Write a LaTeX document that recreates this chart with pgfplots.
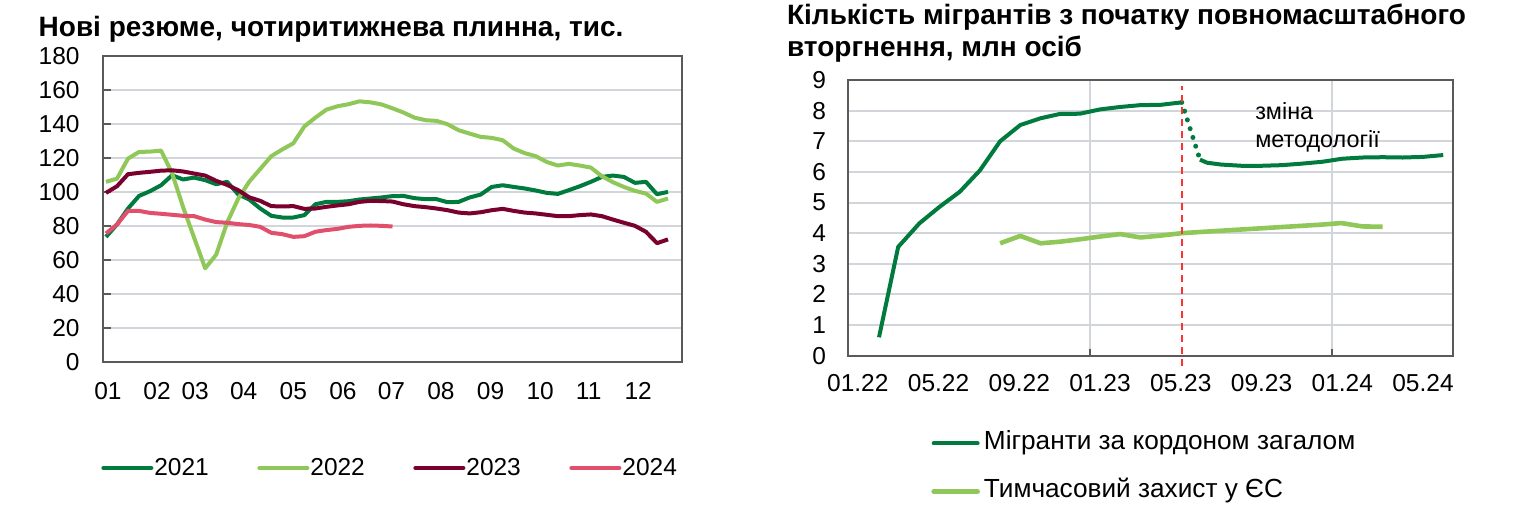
\documentclass[border=0pt]{standalone}
\usepackage{fontspec}
\setmainfont{Liberation Sans}
\usepackage{pgfplots}
\usepackage{pgfplotstable}
\pgfplotsset{compat=1.18}
\definecolor{dgreen}{RGB}{0,122,61}
\definecolor{lgreen}{RGB}{143,200,88}
\definecolor{maroon}{RGB}{122,0,45}
\definecolor{pinkc}{RGB}{224,80,108}
\definecolor{gridc}{RGB}{210,214,219}
\definecolor{framec}{RGB}{90,90,90}
\definecolor{redc}{RGB}{255,50,50}
\newcommand{\tf}{\fontsize{12.25bp}{14bp}\selectfont}
\newcommand{\lf}{\fontsize{13.1bp}{15bp}\selectfont}
\newcommand{\af}{\fontsize{11.7bp}{14bp}\selectfont}
\newcommand{\ttl}{\bfseries\fontsize{14bp}{16bp}\selectfont}

\pgfplotstableread{
w y21 y22 y23 y24
1 73.5 105.9 99.4 75.5
2 80.8 107.8 103.3 80.8
3 90.2 119.6 110.4 88.8
4 97.6 123.5 111.2 88.8
5 100.4 123.7 111.8 87.6
6 103.9 124.3 112.5 87.1
7 109.8 111 112.7 86.5
8 107.3 91 112 85.9
9 108.4 73 110.8 85.7
10 106.9 55 109.6 83.7
11 104.5 63 106.5 82.2
12 105.9 82 104.1 81.8
13 98.5 96 101 81
14 95.5 106 96.8 80.5
15 90.2 113.5 94.7 79.4
16 85.9 121 91.6 75.9
17 84.9 125 91.4 75.1
18 84.9 128.6 91.6 73.5
19 86.3 138.5 90 73.9
20 92.7 143.7 90.2 76.5
21 94.1 148.4 91.2 77.5
22 94.1 150.4 92 78.2
23 94.5 151.6 92.7 79.4
24 95.5 153.3 94.1 80
25 96.1 152.7 94.7 80.2
26 96.7 151.5 94.6 80
27 97.5 149.2 94.3 79.6
28 97.6 146.7 92.7 nan
29 96.3 143.7 91.6 nan
30 95.7 142.2 91 nan
31 95.7 141.8 90.2 nan
32 93.9 139.8 89.2 nan
33 94.1 136.3 87.8 nan
34 96.7 134.3 87.3 nan
35 98.4 132.4 88 nan
36 102.9 131.8 89.2 nan
37 103.9 130.4 90 nan
38 102.9 125.5 88.8 nan
39 102.0 122.8 87.8 nan
40 100.8 121 87.3 nan
41 99.4 117.6 86.5 nan
42 98.8 115.5 85.7 nan
43 101 116.5 85.7 nan
44 103.3 115.5 86.3 nan
45 105.9 114.3 86.7 nan
46 108.8 109.2 85.7 nan
47 109.6 105.7 83.7 nan
48 108.8 102.9 81.8 nan
49 105.3 100.6 80 nan
50 105.9 99 76.5 nan
51 98.6 94.1 69.8 nan
52 100 96.1 72 nan
}\resume

\begin{document}
\begin{tikzpicture}
\useasboundingbox (0,0) rectangle (765bp,253bp);

% ---------- left chart ----------
\begin{axis}[
  at={(51.5bp,72.15bp)}, anchor=south west,
  scale only axis, width=289.5bp, height=152.85bp,
  xmin=0.73, xmax=53.27, ymin=0, ymax=180,
  ytick={0,20,...,180},
  xtick={1.18,5.64,9.09,13.5,18,22.5,26.9,31.4,35.9,40.4,44.8,49.3},
  xticklabels={01,02,03,04,05,06,07,08,09,10,11,12},
  x tick style={draw=none},
  ytick pos=left, tick align=inside,
  y tick style={framec, line width=1bp},
  major tick length=4bp,
  ymajorgrids, grid style={gridc, line width=1bp},
  axis line style={framec, line width=1.2bp},
  tick label style={font=\tf, /pgf/number format/assume math mode=true},
  yticklabel style={xshift=-8.2bp},
  xticklabel style={yshift=-6.75bp},
  legend columns=4,
  legend style={at={(-0.0035,-0.3477)}, anchor=west, draw=none, fill=none, inner sep=0pt,
    nodes={inner xsep=0.5bp, inner ysep=1bp, font=\tf},
    /tikz/every odd column/.append style={column sep=0bp},
    /tikz/every even column/.append style={column sep=23.75bp}},
  legend image code/.code={\draw[#1, line cap=round] (0bp,0bp) -- (24bp,0bp);},
]
\addplot[dgreen, line width=2bp, line join=round] table[x=w, y=y21] {\resume};
\addlegendentry{2021}
\addplot[lgreen, line width=2bp, line join=round] table[x=w, y=y22] {\resume};
\addlegendentry{2022}
\addplot[maroon, line width=2bp, line join=round] table[x=w, y=y23] {\resume};
\addlegendentry{2023}
\addplot[pinkc, line width=2bp, line join=round] table[x=w, y=y24] {\resume};
\addlegendentry{2024}
\end{axis}

% ---------- right chart ----------
\begin{axis}[
  at={(423.85bp,75.15bp)}, anchor=south west,
  scale only axis, width=302.8bp, height=137.85bp,
  xmin=0, xmax=30, ymin=0, ymax=9,
  ytick={0,1,...,9},
  xtick={12,24}, xticklabels={},
  xmajorgrids, ymajorgrids, grid style={gridc, line width=1bp},
  extra x ticks={0.5,4.5,8.5,12.5,16.5,20.5,24.5,28.5},
  extra x tick labels={01.22,05.22,09.22,01.23,05.23,09.23,01.24,05.24},
  extra x tick style={grid=none, major tick length=0pt},
  xtick pos=bottom, ytick pos=left, tick align=inside,
  y tick style={draw=none},
  x tick style={framec, line width=1bp},
  major tick length=3.5bp,
  axis line style={framec, line width=1bp},
  tick label style={font=\tf, /pgf/number format/assume math mode=true},
  yticklabel style={xshift=-7.3bp},
  xticklabel style={yshift=-5.75bp},
  clip=false,
  legend columns=1,
  legend style={at={(0.1375,-0.4055)}, anchor=west, draw=none, fill=none, inner sep=0pt,
    row sep=9.5bp,
    nodes={inner xsep=2bp, inner ysep=1bp, text height=9.5bp, text depth=3bp, font=\lf}},
  legend cell align=left,
  legend image code/.code={\draw[#1, line cap=round] (0bp,0bp) -- (22bp,0bp);},
]
\addplot[dgreen, line width=2bp, line join=round] coordinates {
(1.55,0.6) (2.5,3.55) (3.55,4.32) (4.55,4.86) (5.55,5.35) (6.55,6.05) (7.55,7.0)
(8.55,7.53) (9.55,7.75) (10.5,7.89) (11.5,7.9) (12.5,8.04) (13.5,8.12) (14.5,8.18)
(15.5,8.19) (16.55,8.27)};
\addlegendentry{Мігранти за кордоном загалом}
\addplot[lgreen, line width=2.3bp, line join=round] coordinates {
(7.55,3.67) (8.55,3.91) (9.55,3.67) (10.5,3.72) (11.5,3.80) (12.5,3.89) (13.5,3.97)
(14.5,3.86) (15.5,3.92) (16.55,4.0) (17.5,4.04) (18.5,4.08) (19.5,4.12) (20.5,4.16)
(21.5,4.20) (22.5,4.24) (23.5,4.28) (24.45,4.33) (25.5,4.22) (26.5,4.21)};
\addlegendentry{Тимчасовий захист у ЄС}
\addplot[dgreen, line width=2bp, line join=round, forget plot] coordinates {
(17.45,6.4) (17.8,6.3) (18.5,6.24) (19.5,6.2) (20.5,6.2) (21.5,6.22) (22.5,6.27)
(23.5,6.33) (24.5,6.43) (25.5,6.47) (26.5,6.48) (27.5,6.47) (28.5,6.49) (29.5,6.55)};
\addplot[dgreen, line width=2.5bp, line cap=round, dash pattern=on 0bp off 4.6bp, forget plot]
  coordinates {(16.55,8.27) (17.45,6.4)};
\addplot[redc, line width=1bp, dash pattern=on 3.5bp off 2.5bp, forget plot]
  coordinates {(16.55,-0.35) (16.55,8.8)};
\node[anchor=base west, inner sep=0pt, font=\af] at (axis cs:20.17,7.72) {зміна};
\node[anchor=base west, inner sep=0pt, font=\af] at (axis cs:20.17,6.80) {методології};
\end{axis}

% ---------- titles ----------
\node[anchor=base west, inner sep=0pt, font=\ttl] at (19.15bp,234.65bp) {Нові резюме, чотиритижнева плинна, тис.};
\node[anchor=base west, inner sep=0pt, font=\ttl] at (393.35bp,240.5bp) {Кількість мігрантів з початку повномасштабного};
\node[anchor=base west, inner sep=0pt, font=\ttl] at (393.35bp,224.65bp) {вторгнення, млн осіб};
\end{tikzpicture}
\end{document}
